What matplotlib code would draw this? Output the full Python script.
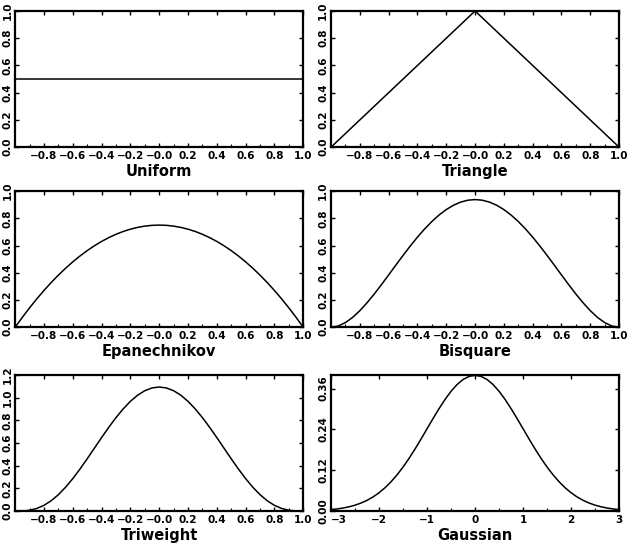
import matplotlib
matplotlib.use("Agg")
import matplotlib.pyplot as plt
from matplotlib.ticker import MultipleLocator

# values
x_unit = [-1.0, -0.95, -0.9, -0.85, -0.8, -0.75, -0.7, -0.65, -0.6, -0.55, -0.5,
          -0.45, -0.4, -0.35, -0.3, -0.25, -0.2, -0.15, -0.1, -0.05, 0.0,
          0.05, 0.1, 0.15, 0.2, 0.25, 0.3, 0.35, 0.4, 0.45, 0.5,
          0.55, 0.6, 0.65, 0.7, 0.75, 0.8, 0.85, 0.9, 0.95, 1.0]

uniform_x = [-1.0, 1.0]
uniform_y = [0.5, 0.5]

triangle_x = [-1.0, 0.0, 1.0]
triangle_y = [0.0, 1.0, 0.0]

epan_y = [0.0, 0.0731, 0.1425, 0.2081, 0.27, 0.3281, 0.3825, 0.4331, 0.48, 0.5231, 0.5625,
          0.5981, 0.63, 0.6581, 0.6825, 0.7031, 0.72, 0.7331, 0.7425, 0.7481, 0.75,
          0.7481, 0.7425, 0.7331, 0.72, 0.7031, 0.6825, 0.6581, 0.63, 0.5981, 0.5625,
          0.5231, 0.48, 0.4331, 0.3825, 0.3281, 0.27, 0.2081, 0.1425, 0.0731, 0.0]

bisq_y = [0.0, 0.0089, 0.0338, 0.0722, 0.1215, 0.1794, 0.2438, 0.3127, 0.384, 0.4561, 0.5273,
          0.5963, 0.6615, 0.7219, 0.7763, 0.824, 0.864, 0.8958, 0.9188, 0.9328, 0.9375,
          0.9328, 0.9188, 0.8958, 0.864, 0.824, 0.7763, 0.7219, 0.6615, 0.5963, 0.5273,
          0.4561, 0.384, 0.3127, 0.2438, 0.1794, 0.1215, 0.0722, 0.0338, 0.0089, 0.0]

triw_y = [0.0, 0.001, 0.0075, 0.0234, 0.051, 0.0916, 0.1451, 0.2107, 0.2867, 0.3712, 0.4614,
          0.5548, 0.6483, 0.739, 0.8242, 0.9012, 0.9677, 1.0216, 1.0613, 1.0856, 1.0938,
          1.0856, 1.0613, 1.0216, 0.9677, 0.9012, 0.8242, 0.739, 0.6483, 0.5548, 0.4614,
          0.3712, 0.2867, 0.2107, 0.1451, 0.0916, 0.051, 0.0234, 0.0075, 0.001, 0.0]

gauss_x = [-3.0, -2.875, -2.75, -2.625, -2.5, -2.375, -2.25, -2.125, -2.0, -1.875, -1.75,
           -1.625, -1.5, -1.375, -1.25, -1.125, -1.0, -0.875, -0.75, -0.625, -0.5,
           -0.375, -0.25, -0.125, 0.0, 0.125, 0.25, 0.375, 0.5, 0.625, 0.75,
           0.875, 1.0, 1.125, 1.25, 1.375, 1.5, 1.625, 1.75, 1.875, 2.0,
           2.125, 2.25, 2.375, 2.5, 2.625, 2.75, 2.875, 3.0]
gauss_y = [0.0044, 0.0064, 0.0091, 0.0127, 0.0175, 0.0238, 0.0317, 0.0417, 0.054, 0.0688, 0.0863,
           0.1066, 0.1295, 0.155, 0.1826, 0.2119, 0.242, 0.2721, 0.3011, 0.3282, 0.3521,
           0.3719, 0.3867, 0.3958, 0.3989, 0.3958, 0.3867, 0.3719, 0.3521, 0.3282, 0.3011,
           0.2721, 0.242, 0.2119, 0.1826, 0.155, 0.1295, 0.1066, 0.0863, 0.0688, 0.054,
           0.0417, 0.0317, 0.0238, 0.0175, 0.0127, 0.0091, 0.0064, 0.0044]

unit_ticks = [-0.8, -0.6, -0.4, -0.2, 0.0, 0.2, 0.4, 0.6, 0.8, 1.0]
unit_labels = ["\u22120.8", "\u22120.6", "\u22120.4", "\u22120.2", "\u22120.0",
               "0.2", "0.4", "0.6", "0.8", "1.0"]
gauss_ticks = [-3, -2, -1, 0, 1, 2, 3]
gauss_labels = ["\u22123", "\u22122", "\u22121", "0", "1", "2", "3"]

plt.rcParams['font.family'] = ['DejaVu Sans']

fig = plt.figure(figsize=(6.33, 5.49), dpi=100)

lefts = [0.024, 0.523]
bottoms = [0.732, 0.404, 0.069]
w, h = 0.455, 0.248

panels = [
    ("Uniform", uniform_x, uniform_y, (0, 1.0), 0.2, "{:.1f}"),
    ("Triangle", triangle_x, triangle_y, (0, 1.0), 0.2, "{:.1f}"),
    ("Epanechnikov", x_unit, epan_y, (0, 1.0), 0.2, "{:.1f}"),
    ("Bisquare", x_unit, bisq_y, (0, 1.0), 0.2, "{:.1f}"),
    ("Triweight", x_unit, triw_y, (0, 1.2), 0.2, "{:.1f}"),
    ("Gaussian", gauss_x, gauss_y, (0, 0.40), 0.12, "{:.2f}"),
]

for i, (name, xs, ys, ylim, ystep, fmt) in enumerate(panels):
    ax = fig.add_axes([lefts[i % 2], bottoms[i // 2], w, h])
    ax.plot(xs, ys, color="black", lw=1.1)
    ax.set_ylim(*ylim)
    if name == "Gaussian":
        ax.set_xlim(-3, 3)
        ax.set_xticks(gauss_ticks)
        ax.set_xticklabels(gauss_labels)
        ax.xaxis.set_minor_locator(MultipleLocator(0.5))
        yt = [0, 0.12, 0.24, 0.36]
    else:
        ax.set_xlim(-1, 1)
        ax.set_xticks(unit_ticks)
        ax.set_xticklabels(unit_labels)
        ax.xaxis.set_minor_locator(MultipleLocator(0.1))
        n = int(round(ylim[1] / ystep))
        yt = [k * ystep for k in range(n + 1)]
    ax.set_yticks(yt)
    ax.set_yticklabels([fmt.format(v) for v in yt], rotation=90, va="center")
    ax.tick_params(direction="in", top=True, right=True, length=3, width=1,
                   labelsize=7.5, pad=3)
    ax.tick_params(axis="y", pad=2)
    ax.tick_params(which="minor", direction="in", top=False, right=False,
                   length=2, width=0.8)
    for lab in ax.get_xticklabels() + ax.get_yticklabels():
        lab.set_fontweight("bold")
    if name == "Gaussian":
        # first label sits just right of the corner, clear of "0.00"
        ax.get_xticklabels()[0].set_horizontalalignment("left")
    for s in ax.spines.values():
        s.set_linewidth(1.6)
    ax.set_xlabel(name, fontsize=10.5, fontweight="semibold", labelpad=2)

fig.savefig("out.png", dpi=100)
